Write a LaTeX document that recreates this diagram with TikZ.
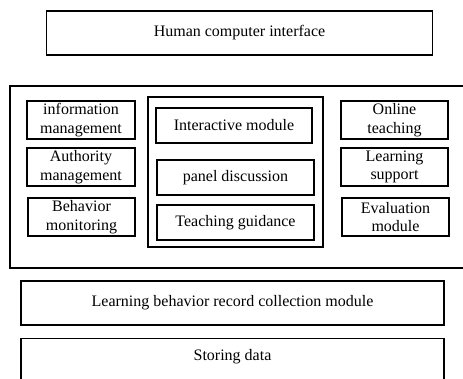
\documentclass[tikz,border=0pt]{standalone}
\usepackage{fontspec}
\setmainfont{Liberation Serif}
\begin{document}
\begin{tikzpicture}[x=1pt,y=-1pt,
  box/.style={draw,line width=1.2pt,inner sep=0pt,align=center,font=\fontsize{16}{18.5}\selectfont},
  wide/.style={box}]
\useasboundingbox (0,0) rectangle (463,378);
% top
\node[wide,minimum width=386,minimum height=44] (hci) at (239.5,33) {Human computer interface};
% big container
\node[box,minimum width=460,minimum height=182] (big) at (240,177) {};
% left column
\node[box,minimum width=108,minimum height=38] (info) at (81,120) {information\\management};
\node[box,minimum width=108,minimum height=38] (auth) at (81,167) {Authority\\management};
\node[box,minimum width=107,minimum height=38] (behav) at (81.5,217) {Behavior\\monitoring};
% middle
\node[box,minimum width=175,minimum height=150] (mid) at (235.5,172) {};
\node[box,minimum width=156,minimum height=35] (inter) at (234,125.5) {Interactive module};
\node[box,minimum width=157,minimum height=35] (panel) at (235.5,177.5) {panel discussion};
\node[box,minimum width=157,minimum height=35] (guide) at (235.5,222.5) {Teaching guidance};
% right column
\node[box,minimum width=107,minimum height=38] (online) at (394.5,120) {Online\\teaching};
\node[box,minimum width=107,minimum height=38] (support) at (394.5,167) {Learning\\support};
\node[box,minimum width=107,minimum height=38] (eval) at (395.5,217) {Evaluation\\module};
% bottom
\node[wide,minimum width=423,minimum height=44] (record) at (232.5,303) {Learning behavior record collection module};
\node[box,minimum width=423,minimum height=56,anchor=north] (store) at (232.5,338) {};
\node[font=\fontsize{16}{18.5}\selectfont,inner sep=0pt] (storetext) at (232.5,357) {Storing data};
\end{tikzpicture}
\end{document}
